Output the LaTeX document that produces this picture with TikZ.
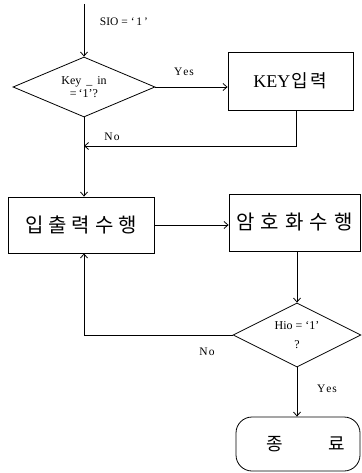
\documentclass[tikz,border=0pt]{standalone}
\usepackage{fontspec}
\setmainfont{Liberation Serif}
\newfontfamily\kr{Noto Sans CJK KR}
\usetikzlibrary{shapes.geometric,arrows.meta}
\begin{document}
\begin{tikzpicture}[x=1pt,y=-1pt,line width=0.8pt,
  arr/.style={-{Straight Barb[length=4pt,width=7pt]}},
  box/.style={draw,rectangle,inner sep=0pt},
  dia/.style={draw,diamond,inner sep=0pt,align=center,font=\fontsize{12}{13}\selectfont},
  lab/.style={font=\fontsize{11.5}{13}\selectfont,inner sep=0pt}]
\useasboundingbox (0,0) rectangle (361,473);
% nodes
\coordinate (top) at (84,4);
\node[dia,aspect=2.6,minimum width=142pt,minimum height=60pt] (d1) at (84,87) {Key\, \_\, in\\=\,`1'?};
\node[box,minimum width=125pt,minimum height=58pt,font=\fontsize{18}{20}\selectfont] (k) at (290.5,81) {KEY\kern1pt{\kr 입\kern3pt 력}};
\coordinate (j) at (84,146);
\node[box,minimum width=146pt,minimum height=56pt,font=\kr\fontsize{20}{22}\selectfont] (b1) at (81,225) {입\kern5pt 출\kern5pt 력\kern5pt 수\kern5pt 행};
\node[box,minimum width=131pt,minimum height=57pt,font=\kr\fontsize{20}{22}\selectfont] (e) at (294.5,222.5) {암\kern6pt 호\kern6pt 화\kern6pt 수\kern6pt 행};
\node[dia,aspect=2.2,minimum width=128pt,minimum height=64pt] (d2) at (297,335) {Hio = `1'\\[6pt]?};
\node[draw,rounded corners=16pt,minimum width=124pt,minimum height=54pt,inner sep=0pt,font=\kr\fontsize{18}{20}\selectfont] (t) at (298,444) {\hspace*{16pt}종\hspace{46pt}료};
% labels
\node[lab] (sio) at (124,22) {SIO = ‘\,1\,’};
\node[lab] (y1) at (184,72) {Y\kern1pt e\kern1pt s};
\node[lab] (n1) at (112,137) {N\kern1pt o};
\node[lab] (n2) at (207,352) {N\kern1pt o};
\node[lab] (y2) at (327,389) {Y\kern1pt e\kern1pt s};
% connectors
\draw[arr] (top) -- (d1.north);
\draw[arr] (d1.east) -- (k.west |- d1.east);
\draw[arr] ([xshift=6pt]k.south) |- (j);
\draw[arr] (d1.south) -- (d1.south |- b1.north);
\draw[arr] (b1.east) -- (b1.east -| e.west);
\draw[arr] (e.south -| d2.north) -- (d2.north);
\draw[arr] (d2.west) -| (d1.south |- b1.south);
\draw[arr] (d2.south) -- (d2.south |- t.north);
\end{tikzpicture}
\end{document}
